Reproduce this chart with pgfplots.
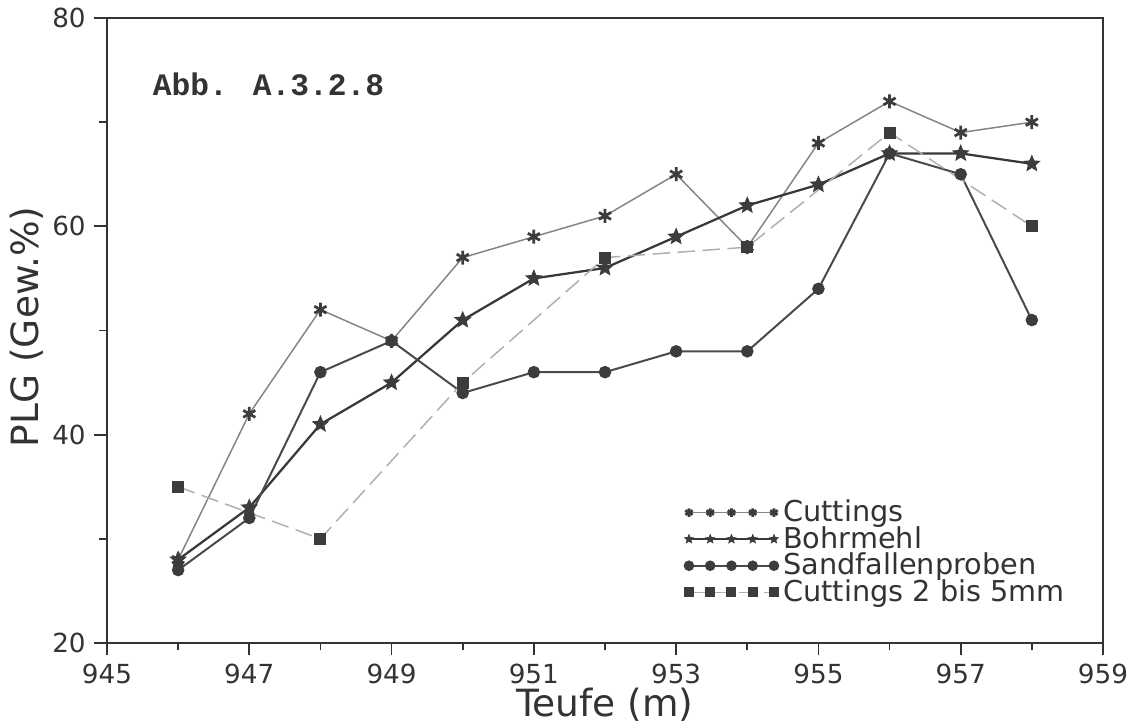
\documentclass[border=0pt]{standalone}
\usepackage{pgfplots}
\pgfplotsset{compat=1.18}
\usetikzlibrary{calc}
\usepackage{fontspec}
\setmainfont{DejaVu Sans}
\newfontfamily\monofont{Liberation Mono}
\definecolor{axGray}{HTML}{333333}
\definecolor{mkGray}{HTML}{3C3C3C}
\definecolor{cutLine}{HTML}{858585}
\definecolor{bohLine}{HTML}{383838}
\definecolor{sanLine}{HTML}{4A4A4A}
\definecolor{sqLine}{HTML}{B0B0B0}

% filled five point star
\pgfdeclareplotmark{fstar}{%
  \pgfpathmoveto{\pgfpointpolar{90}{\pgfplotmarksize}}%
  \pgfpathlineto{\pgfpointpolar{126}{0.45\pgfplotmarksize}}%
  \pgfpathlineto{\pgfpointpolar{162}{\pgfplotmarksize}}%
  \pgfpathlineto{\pgfpointpolar{198}{0.45\pgfplotmarksize}}%
  \pgfpathlineto{\pgfpointpolar{234}{\pgfplotmarksize}}%
  \pgfpathlineto{\pgfpointpolar{270}{0.45\pgfplotmarksize}}%
  \pgfpathlineto{\pgfpointpolar{306}{\pgfplotmarksize}}%
  \pgfpathlineto{\pgfpointpolar{342}{0.45\pgfplotmarksize}}%
  \pgfpathlineto{\pgfpointpolar{18}{\pgfplotmarksize}}%
  \pgfpathlineto{\pgfpointpolar{54}{0.45\pgfplotmarksize}}%
  \pgfpathclose
  \pgfusepathqfillstroke
}

\begin{document}
\begin{tikzpicture}
\begin{axis}[
  name=ax,
  scale only axis,
  width=398.4pt, height=250pt,
  xmin=945, xmax=959, ymin=20, ymax=80,
  xtick={945,947,...,959}, ytick={20,40,60,80},
  minor x tick num=1, minor y tick num=1,
  tick pos=left, tick align=outside,
  major tick length=5pt, minor tick length=3pt,
  every tick/.style={axGray, line width=0.7pt},
  axis line style={axGray, line width=0.8pt},
  /pgf/number format/assume math mode=true,
  /pgf/number format/1000 sep={},
  tick label style={font=\fontsize{10.5}{12}\selectfont, color=axGray},
  xlabel={Teufe (m)}, ylabel={PLG (Gew.\%)},
  label style={font=\fontsize{15}{16}\selectfont, color=axGray},
  xlabel style={at={(axis description cs:0.5,-0.098)}, anchor=center},
  ylabel style={at={(axis description cs:-0.081,0.506)}, anchor=center},
  legend style={at={(0.572,0.246)}, anchor=north west, draw=none, fill=none,
    font=\fontsize{11.5}{11}\selectfont, text=axGray, row sep=-3.6pt},
  legend cell align=left,
  legend image code/.code={%
    \draw[#1, mark size=1.7pt, mark repeat=1]
      plot coordinates {(0pt,0pt)(8.5pt,0pt)(17pt,0pt)(25.5pt,0pt)(34pt,0pt)};},
]
\addplot[cutLine, line width=0.6pt, mark=asterisk, mark size=2.8pt,
  mark options={mkGray, line width=1.1pt}]
  coordinates {(946,28)(947,42)(948,52)(949,49)(950,57)(951,59)(952,61)
               (953,65)(954,58)(955,68)(956,72)(957,69)(958,70)};
\addlegendentry{Cuttings}
\addplot[bohLine, line width=0.9pt, mark=fstar, mark size=3.2pt,
  mark options={mkGray, fill=mkGray, line width=0.4pt}]
  coordinates {(946,28)(947,33)(948,41)(949,45)(950,51)(951,55)(952,56)
               (953,59)(954,62)(955,64)(956,67)(957,67)(958,66)};
\addlegendentry{Bohrmehl}
\addplot[sanLine, line width=0.8pt, mark=*, mark size=2.1pt,
  mark options={mkGray, fill=mkGray}]
  coordinates {(946,27)(947,32)(948,46)(949,49)(950,44)(951,46)(952,46)
               (953,48)(954,48)(955,54)(956,67)(957,65)(958,51)};
\addlegendentry{Sandfallenproben}
\addplot[sqLine, line width=0.6pt, dash pattern=on 7pt off 3pt, mark=square*,
  mark size=2.1pt, mark options={mkGray, fill=mkGray, solid}]
  coordinates {(946,35)(948,30)(950,45)(952,57)(954,58)(956,69)(958,60)};
\addlegendentry{Cuttings 2 bis 5mm}
\node[anchor=west, font=\monofont\bfseries\fontsize{12.5}{14}\selectfont, text=axGray]
  at (axis cs:945.52,73.6) {Abb. A.3.2.8};
\end{axis}
\pgfresetboundingbox
\path ($(ax.south west)+(-42.8pt,-33.6pt)$) rectangle ($(ax.north east)+(12pt,7.2pt)$);
\end{tikzpicture}
\end{document}
